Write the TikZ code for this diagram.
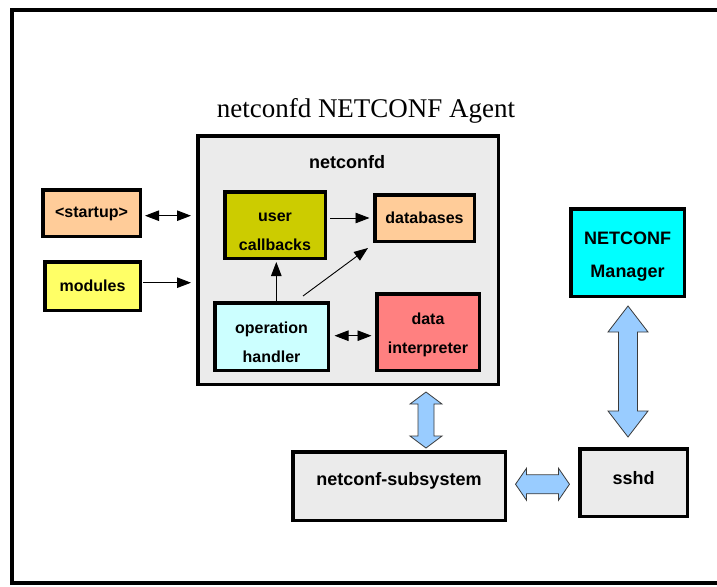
\documentclass[tikz,border=0pt]{standalone}
\usepackage{fontspec}
\setmainfont{Liberation Serif}
\setsansfont{Liberation Sans}
\usetikzlibrary{arrows.meta,calc}
\definecolor{boxgray}{HTML}{EBEBEB}
\definecolor{peach}{HTML}{FFCC99}
\definecolor{lemon}{HTML}{FFFF66}
\definecolor{olive}{HTML}{CCCC00}
\definecolor{palecyan}{HTML}{CCFFFF}
\definecolor{salmon}{HTML}{FF8080}
\definecolor{brightcyan}{HTML}{00FFFF}
\definecolor{arrowblue}{HTML}{99CCFF}
\definecolor{arrowedge}{HTML}{3A3A3A}
\tikzset{
  box/.style={draw=black, line width=3.5pt, inner sep=0pt},
  txt/.style={align=center, font=\sffamily\bfseries\fontsize{16}{29}\selectfont},
  bigtxt/.style={align=center, font=\sffamily\bfseries\fontsize{18}{33}\selectfont},
  conn/.style={line width=0.9pt, -{Triangle[length=14pt,width=10.5pt]}},
  biconn/.style={line width=0.9pt, {Triangle[length=14pt,width=10.5pt]}-{Triangle[length=14pt,width=10.5pt]}},
  blockarrow/.style={draw=arrowedge, fill=arrowblue, line width=0.8pt, line join=miter},
  pics/dblock/.style args={#1/#2/#3/#4}{code={
    \draw[blockarrow] (0,{-#1/2}) -- (#2,{-#1/2+#4}) -- (#3,{-#1/2+#4}) -- (#3,{#1/2-#4})
      -- (#2,{#1/2-#4}) -- (0,{#1/2}) -- (-#2,{#1/2-#4}) -- (-#3,{#1/2-#4})
      -- (-#3,{-#1/2+#4}) -- (-#2,{-#1/2+#4}) -- cycle;
  }}
}
\begin{document}
\begin{tikzpicture}[x=1pt,y=-1pt]
\useasboundingbox (0,0) rectangle (717,586);
\draw[line width=3.5pt] (12,10) rectangle (740,583);

\node[font=\fontsize{27}{30}\selectfont] (title) at (366,111) {netconfd NETCONF Agent};

\node[box, fill=boxgray, minimum width=300.5pt, minimum height=248.5pt] (netconfd) at (348,260) {};
\node[font=\sffamily\bfseries\fontsize{18}{20}\selectfont] (netconfdlabel) at (347,162) {netconfd};

\node[box, fill=peach, minimum width=97.5pt, minimum height=46.5pt] (startup) at (91.5,213)
  {}; \node[txt] (startuptext) at ([yshift=-1pt]startup) {<startup>};
\node[box, fill=lemon, minimum width=95.5pt, minimum height=48.5pt] (modules) at (92.5,286)
  {}; \node[txt] (modulestext) at (modules) {modules};
\node[box, fill=olive, minimum width=100.5pt, minimum height=66.5pt] (uc) at (275,225)
  {}; \node[txt] (uctext) at ([yshift=-7pt]uc) {user\\callbacks};
\node[box, fill=peach, minimum width=99.5pt, minimum height=46.5pt] (db) at (424.5,218)
  {}; \node[txt] (dbtext) at (db) {databases};
\node[box, fill=palecyan, minimum width=113.5pt, minimum height=67.5pt] (oh) at (271.5,336.5)
  {}; \node[txt] (ohtext) at ([yshift=-6pt]oh) {operation\\handler};
\node[box, fill=salmon, minimum width=102.5pt, minimum height=76.5pt] (di) at (428,332)
  {}; \node[txt] (ditext) at ([yshift=-3pt]di) {data\\interpreter};
\node[box, fill=brightcyan, minimum width=113.5pt, minimum height=87.5pt] (mgr) at (627.5,252.5)
  {}; \node[bigtxt] (mgrtext) at ([yshift=-4pt]mgr) {NETCONF\\Manager};
\node[box, fill=boxgray, minimum width=107.5pt, minimum height=67.5pt] (sshd) at (633.5,482.5)
  {}; \node[bigtxt] (sshdtext) at ([yshift=4pt]sshd) {sshd};
\node[box, fill=boxgray, minimum width=212.5pt, minimum height=68.5pt] (sub) at (399,486)
  {}; \node[bigtxt] (subtext) at ([yshift=5pt]sub) {netconf-subsystem};

% line connectors
\draw[biconn, shorten <=3pt, shorten >=5pt] ([yshift=-2.7pt]startup.east) -- ([yshift=-2.7pt]startup.east -| netconfd.west);
\draw[conn, shorten <=1pt, shorten >=5pt] ([yshift=3.3pt]modules.east) -- ([yshift=3.3pt]modules.east -| netconfd.west);
\draw[conn, shorten <=3pt, shorten >=3.5pt] (uc.east |- db.west) -- (db.west);
\draw[conn, shorten >=2pt] ([xshift=1.3pt]oh.north -| uc.south) -- ([xshift=1.3pt]uc.south);
\draw[conn] ([shift={(31.5,-5)}]oh.north) -- ([shift={(-5,5)}]db.south west);
\draw[biconn, shorten <=4.5pt, shorten >=3.5pt] ([yshift=0.8pt]oh.east) -- ([yshift=0.8pt]oh.east -| di.west);

% block arrows
\pic (ba1) at (426,420) {dblock={56/16/8/12}};
\pic[rotate=90] (ba2) at ($(sub.east)!0.5!(sshd.west)$) {dblock={54/16/9.5/11}};
\pic (ba3) at (628,371.5) {dblock={131/20/9.5/26}};
\end{tikzpicture}
\end{document}
